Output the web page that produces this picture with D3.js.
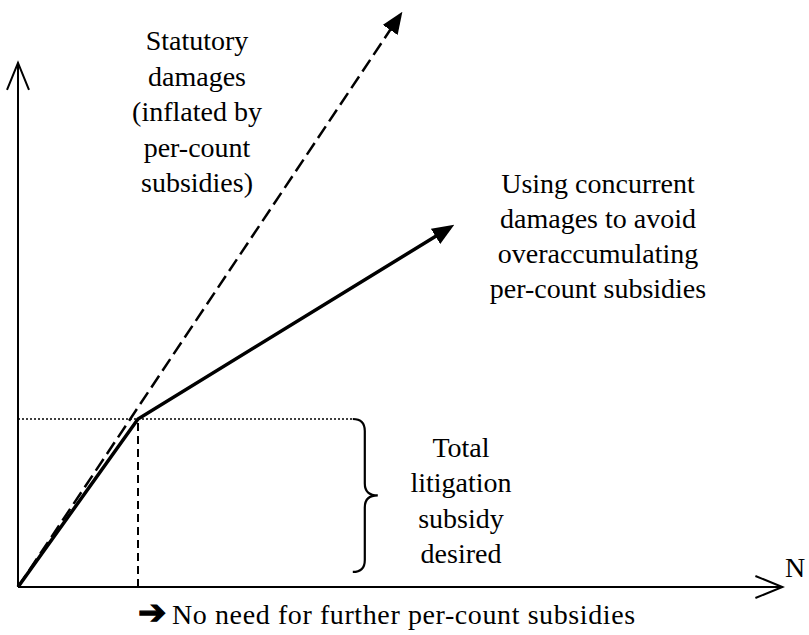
<!DOCTYPE html>
<html>
<head>
<meta charset="utf-8">
<script src="https://cdn.jsdelivr.net/npm/d3@7"></script>
<style>
  html, body { margin: 0; padding: 0; background: #fff; }
  svg { display: block; }
  text { font-family: "Liberation Serif", "Times New Roman", serif; fill: #000; }
</style>
</head>
<body>
<svg id="chart" width="809" height="635"></svg>
<script>
// ---- data (abstract units: N = number of counts, V = damages) ----
const axisExtentN = 6.37;          // x axis length
const axisExtentV = 3.12;          // y axis length
const thresholdN = 1;              // count at which desired subsidy is reached
const subsidyLevel = 1;            // total litigation subsidy desired
const statutoryLine = [ {n: 0, v: 0}, {n: 3.18, v: 3.40} ];
const concurrentLine = [ {n: 0, v: 0}, {n: 1, v: 1}, {n: 3.6, v: 2.14} ];
const dottedEndN = 2.79;
const braceRange = [1, 0.09];      // brace spans from subsidy level down
const statutoryLabel = ["Statutory", "damages", "(inflated by", "per-count", "subsidies)"];
const concurrentLabel = ["Using concurrent", "damages to avoid", "overaccumulating", "per-count subsidies"];
const subsidyLabel = ["Total", "litigation", "subsidy", "desired"];
const axisLabelN = "N";
const footnote = "No need for further per-count subsidies";

// ---- scales ----
const x = d3.scaleLinear().domain([0, 1]).range([18, 138]);
const y = d3.scaleLinear().domain([0, 1]).range([587, 419]);

const svg = d3.select("#chart");
const defs = svg.append("defs");

// filled arrowhead
defs.append("marker")
  .attr("id", "filled")
  .attr("markerUnits", "userSpaceOnUse")
  .attr("viewBox", "0 0 22 18")
  .attr("markerWidth", 22).attr("markerHeight", 18)
  .attr("refX", 17).attr("refY", 9)
  .attr("orient", "auto")
  .append("path")
  .attr("d", "M0,0 L22,9 L0,18 Z")
  .attr("fill", "#000");

// open arrowhead for axes
defs.append("marker")
  .attr("id", "open")
  .attr("markerUnits", "userSpaceOnUse")
  .attr("viewBox", "-2 -2 32 28")
  .attr("markerWidth", 32).attr("markerHeight", 28)
  .attr("refX", 27).attr("refY", 11)
  .attr("orient", "auto")
  .append("path")
  .attr("d", "M0,0 L27,11 L0,22")
  .attr("fill", "none")
  .attr("stroke", "#000")
  .attr("stroke-width", 2);

const line = d3.line().x(d => x(d.n)).y(d => y(d.v));

// axes
svg.append("path")
  .attr("d", line([{n: 0, v: 0}, {n: axisExtentN, v: 0}]))
  .attr("stroke", "#000").attr("stroke-width", 2).attr("fill", "none")
  .attr("marker-end", "url(#open)");
svg.append("path")
  .attr("d", line([{n: 0, v: 0}, {n: 0, v: axisExtentV}]))
  .attr("stroke", "#000").attr("stroke-width", 2).attr("fill", "none")
  .attr("marker-end", "url(#open)");

// dotted horizontal at desired subsidy level
svg.append("path")
  .attr("d", line([{n: 0, v: subsidyLevel}, {n: dottedEndN, v: subsidyLevel}]))
  .attr("stroke", "#000").attr("stroke-width", 1.5).attr("fill", "none")
  .attr("stroke-dasharray", "2,2");

// dashed vertical at threshold
svg.append("path")
  .attr("d", line([{n: thresholdN, v: 0}, {n: thresholdN, v: subsidyLevel}]))
  .attr("stroke", "#000").attr("stroke-width", 2).attr("fill", "none")
  .attr("stroke-dasharray", "8,5");

// statutory (dashed) line
svg.append("path")
  .attr("d", line(statutoryLine))
  .attr("stroke", "#000").attr("stroke-width", 2.5).attr("fill", "none")
  .attr("stroke-dasharray", "14,6")
  .attr("marker-end", "url(#filled)");

// concurrent (solid) line
svg.append("path")
  .attr("d", line(concurrentLine))
  .attr("stroke", "#000").attr("stroke-width", 3.5).attr("fill", "none")
  .attr("stroke-linejoin", "miter")
  .attr("marker-end", "url(#filled)");

// brace
const bx = x(dottedEndN);
const bTop = y(braceRange[0]);
const bBot = y(braceRange[1]);
const bMid = (bTop + bBot) / 2;
const r = 12, tipW = 13;
const bracePath = d3.path();
bracePath.moveTo(bx, bTop);
bracePath.quadraticCurveTo(bx + r, bTop, bx + r, bTop + r);
bracePath.lineTo(bx + r, bMid - r);
bracePath.quadraticCurveTo(bx + r, bMid, bx + r + tipW, bMid);
bracePath.quadraticCurveTo(bx + r, bMid, bx + r, bMid + r);
bracePath.lineTo(bx + r, bBot - r);
bracePath.quadraticCurveTo(bx + r, bBot, bx, bBot);
svg.append("path")
  .attr("d", bracePath.toString())
  .attr("stroke", "#000").attr("stroke-width", 2.2).attr("fill", "none");

// labels
function block(lines, cx, firstBaseline, lh) {
  const t = svg.append("text")
    .attr("text-anchor", "middle")
    .attr("font-size", 28);
  lines.forEach((s, i) => {
    t.append("tspan").attr("x", cx).attr("y", firstBaseline + i * lh).text(s);
  });
}
block(statutoryLabel, 197, 50, 35.5);
block(concurrentLabel, 598, 193, 35);
block(subsidyLabel, 461, 457, 35.3);

svg.append("text")
  .attr("x", 785).attr("y", 577)
  .attr("font-size", 28)
  .text(axisLabelN);

// footnote: arrow glyph + text
svg.append("text")
  .attr("x", 138).attr("y", 624)
  .attr("font-size", 34)
  .attr("font-weight", "bold")
  .style("font-family", "'DejaVu Sans', sans-serif")
  .attr("stroke", "#000").attr("stroke-width", 1.2)
  .text("➔");
svg.append("text")
  .attr("x", 172).attr("y", 624)
  .attr("font-size", 28)
  .attr("letter-spacing", 0.6)
  .text(footnote);
</script>
</body>
</html>
